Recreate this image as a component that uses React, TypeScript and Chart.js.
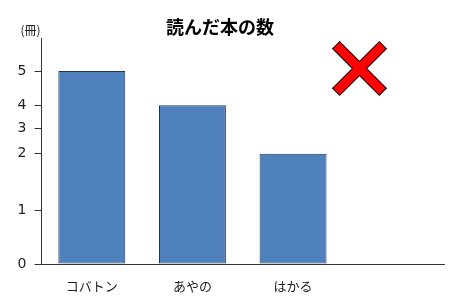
import React, { useEffect, useRef } from 'react';
import { Chart, registerables, LinearScale } from 'chart.js';

// ---- data ----
const categories = ['コバトン', 'あやの', 'はかる', ''];
const booksRead = [5, 4, 2, null];
const yTickValues = [0, 1, 2, 3, 4, 5];
const chartTitle = '読んだ本の数';
const yUnit = '(冊)';

// ---- distorted y scale (the reference uses uneven spacing between ticks) ----
// value -> share of axis height at which the value is drawn
const warpValues = [0, 1, 2, 3, 4, 5, 6];
const warpShares = [0, 0.2373, 0.4878, 0.5987, 0.7029, 0.8537, 1];

function valueToShare(v: number): number {
  const n = warpValues.length;
  if (v <= warpValues[0]) return warpShares[0];
  for (let i = 1; i < n; i++) {
    if (v <= warpValues[i]) {
      const t = (v - warpValues[i - 1]) / (warpValues[i] - warpValues[i - 1]);
      return warpShares[i - 1] + t * (warpShares[i] - warpShares[i - 1]);
    }
  }
  const t = (v - warpValues[n - 2]) / (warpValues[n - 1] - warpValues[n - 2]);
  return warpShares[n - 2] + t * (warpShares[n - 1] - warpShares[n - 2]);
}
function shareToValue(s: number): number {
  const n = warpShares.length;
  for (let i = 1; i < n; i++) {
    if (s <= warpShares[i]) {
      const t = (s - warpShares[i - 1]) / (warpShares[i] - warpShares[i - 1]);
      return warpValues[i - 1] + t * (warpValues[i] - warpValues[i - 1]);
    }
  }
  return warpValues[n - 1];
}

class WarpedScale extends LinearScale {
  static id = 'warped';
  static defaults = { ...(LinearScale as any).defaults };
  getPixelForValue(value: number) {
    if (value === null || value === undefined || isNaN(value)) return NaN;
    return (this as any).getPixelForDecimal(valueToShare(value));
  }
  getValueForPixel(pixel: number) {
    return shareToValue((this as any).getDecimalForPixel(pixel));
  }
}

Chart.register(...registerables, WarpedScale as any);

const decorPlugin = {
  id: 'decor',
  afterDraw(chart: any) {
    const { ctx, chartArea } = chart;
    ctx.save();
    // title
    ctx.fillStyle = '#000';
    ctx.font = 'bold 18px "Noto Sans CJK JP"';
    ctx.textAlign = 'center';
    ctx.textBaseline = 'middle';
    ctx.fillText(chartTitle, 220, 27);
    // unit label
    ctx.font = '12px "Noto Sans CJK JP"';
    ctx.fillStyle = '#222';
    ctx.fillText(yUnit, chartArea.left - 11, chartArea.top - 8);
    // red cross
    const cx = 359.5, cy = 68.5, h = 23;
    const arms = [
      [cx - h, cy - h, cx + h, cy + h],
      [cx + h, cy - h, cx - h, cy + h],
    ];
    ctx.lineCap = 'butt';
    ctx.strokeStyle = '#000';
    ctx.lineWidth = 11;
    for (const [x1, y1, x2, y2] of arms) {
      const dx = x2 - x1, dy = y2 - y1;
      const len = Math.hypot(dx, dy);
      const ex = dx / len, ey = dy / len;
      ctx.beginPath();
      ctx.moveTo(x1 - ex, y1 - ey);
      ctx.lineTo(x2 + ex, y2 + ey);
      ctx.stroke();
    }
    ctx.strokeStyle = '#FF0000';
    ctx.lineWidth = 9;
    for (const [x1, y1, x2, y2] of arms) {
      ctx.beginPath();
      ctx.moveTo(x1, y1);
      ctx.lineTo(x2, y2);
      ctx.stroke();
    }
    ctx.restore();
  },
};

export default function App() {
  const ref = useRef<HTMLCanvasElement>(null);
  useEffect(() => {
    if (!ref.current) return;
    const chart = new Chart(ref.current, {
      type: 'bar',
      data: {
        labels: categories,
        datasets: [
          {
            data: booksRead as any,
            backgroundColor: '#4F81BD',
            borderColor: '#1F3552',
            borderWidth: 1,
            borderSkipped: false,
            categoryPercentage: 1,
            barPercentage: 0.665,
          },
        ],
      },
      options: {
        animation: false,
        responsive: true,
        maintainAspectRatio: false,
        layout: { padding: { left: 9.6, right: 6, top: 38, bottom: 6.4 } },
        plugins: {
          legend: { display: false },
          title: { display: false },
          tooltip: { enabled: false },
        },
        scales: {
          x: {
            grid: { display: false, drawTicks: true, tickLength: 14 },
            border: { display: true, color: '#333', width: 1 },
            ticks: {
              padding: 0,
              color: '#222',
              font: { family: '"Noto Sans CJK JP"', size: 13 },
            },
          },
          y: {
            type: 'warped' as any,
            min: 0,
            max: 6,
            afterBuildTicks: (scale: any) => {
              scale.ticks = yTickValues.map((v) => ({ value: v }));
            },
            grid: {
              drawOnChartArea: false,
              drawTicks: true,
              tickLength: 7,
              color: '#333',
            },
            border: { display: true, color: '#333', width: 1 },
            ticks: {
              padding: 8,
              color: '#222',
              font: { family: '"DejaVu Sans"', size: 14 },
              callback: (v: any) => String(v),
            },
          },
        },
      },
      plugins: [decorPlugin],
    });
    return () => chart.destroy();
  }, []);
  return (
    <div style={{ position: 'fixed', left: 0, top: 0, width: 450, height: 300, background: '#fff' }}>
      <canvas ref={ref} />
    </div>
  );
}
